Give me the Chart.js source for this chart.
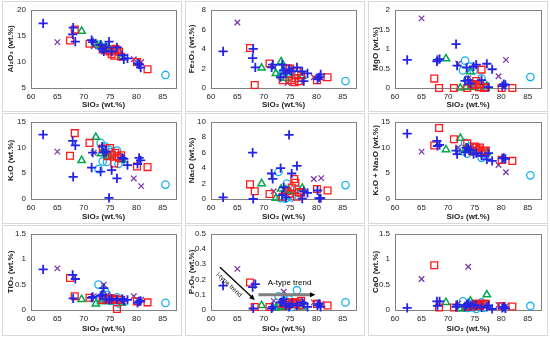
<!DOCTYPE html>
<html>
<head>
<meta charset="utf-8">
<script src="https://cdn.jsdelivr.net/npm/chart.js@4/dist/chart.umd.min.js"></script>
<style>
  body { margin: 0; background: #fff; width: 550px; height: 340px; position: relative; overflow: hidden; }
  .panel { position: absolute; border: 1px solid #d9d9d9; box-sizing: border-box; }
  canvas { position: absolute; }
</style>
</head>
<body>
<script>
// SiO2 of each sample group
const blueSiO2 = [62.3, 67.9, 68.0, 68.4, 71.5, 71.7, 73.2, 73.5, 73.8, 74.2, 74.8, 75.3, 76.3, 77.3, 77.6, 78.3, 80.2, 80.5, 80.8];
const redSiO2 = [67.4, 68.3, 71.1, 73.6, 74.5, 75.0, 75.3, 75.8, 76.0, 76.3, 76.7, 77.1, 80.1, 82.1];
const greenSiO2 = [69.6, 72.3, 73.3, 74.2, 74.8, 77.3];
const purpleSiO2 = [65.0, 71.9, 73.8, 74.5, 79.5, 80.9];
const cyanSiO2 = [72.8, 73.2, 73.6, 74.1, 74.4, 74.8, 75.3, 76.3, 76.6, 85.5];

// blue +
const blueAl2O3 = [17.4, 15.3, 16.6, 13.9, 14.2, 13.8, 13.3, 12.5, 12.0, 12.8, 13.9, 12.0, 12.8, 11.3, 10.5, 10.7, 9.7, 9.5, 8.9];
const blueFe2O3 = [3.75, 3.05, 4.0, 2.1, 2.1, 2.4, 1.1, 2.4, 1.8, 1.5, 1.9, 1.7, 2.1, 1.7, 0.7, 1.5, 0.9, 1.1, 1.4];
const blueMgO = [0.72, 0.68, 0.72, 0.74, 1.12, 0.57, 0.18, 0.52, 0.2, 0.12, 0.55, 0.6, 0.2, 0.62, 0.02, 0.48, 0.05, 0.1, 0.08];
const blueK2O = [12.5, 11.3, 4.3, 10.4, 6.1, 9.0, 5.3, 10.2, 9.0, 9.2, 0.2, 5.6, 4.0, 8.0, 7.8, 6.6, 6.8, 8.0, 7.5];
const blueNa2O = [0.2, 6.0, 0.0, null, 3.3, 2.6, 4.0, 0.5, 1.5, 0.2, 8.3, 3.3, 4.3, 0.05, 1.0, 0.8, 1.1, 0.1, 0.1];
const blueAlk = [12.7, 11.3, 10.3, 10.5, 9.4, 8.7, 9.1, 10.0, 9.8, 9.5, 8.7, 8.9, 8.4, 7.7, 8.9, 7.4, 7.9, 8.0, 7.8];
const blueTiO2 = [0.8, 0.69, 0.23, 0.61, 0.24, 0.26, 0.28, 0.3, 0.43, 0.22, 0.2, 0.22, 0.2, 0.22, 0.18, 0.2, 0.14, 0.17, 0.18];
const blueP2O5 = [0.16, 0.15, 0.01, 0.17, 0.01, 0.02, 0.05, 0.05, 0.07, 0.03, 0.02, 0.04, 0.03, 0.05, 0.04, 0.02, 0.03, 0.04, 0.02];
const blueCaO = [0.04, 0.17, 0.08, 0.17, 0.06, 0.1, 0.07, 0.1, 0.13, 0.08, 0.1, 0.09, 0.05, 0.06, 0.09, 0.02, 0.04, 0.06, 0.03];

// red squares
const redAl2O3 = [14.1, 16.2, 13.5, 12.4, 12.2, 12.0, 11.5, 11.2, 12.5, 12.3, 12.0, 11.0, 10.0, 8.6];
const redFe2O3 = [4.1, 0.3, 2.5, 0.8, 2.0, 2.0, 0.8, 0.6, 1.0, 1.7, 0.7, 1.3, 0.8, 1.1];
const redMgO = [0.24, 0.0, 0.0, 0.0, 0.1, 0.08, 0.18, 0.02, 0.1, 0.47, 0.0, 0.02, 0.0, 0.0];
const redK2O = [8.4, 12.8, 10.9, 9.8, 8.3, 9.9, 8.6, 6.9, 9.0, 8.3, 8.0, 8.5, 6.3, 6.2];
const redNa2O = [1.9, 1.0, 0.65, 0.3, 1.0, 0.7, 1.5, 2.6, 2.1, 0.3, 0.9, 0.8, 1.3, 1.1];
const redAlk = [10.4, 13.8, 11.6, 10.8, 9.3, 10.2, 10.0, 9.6, 10.0, 9.0, 9.3, 9.4, 7.6, 7.4];
const redTiO2 = [0.63, 0.27, 0.24, 0.2, 0.22, 0.23, 0.2, 0.22, 0.21, 0.02, 0.2, 0.2, 0.17, 0.15];
const redP2O5 = [0.18, 0.02, 0.02, 0.04, 0.03, 0.05, 0.04, 0.05, 0.04, 0.05, 0.03, 0.06, 0.04, 0.03];
const redCaO = [0.88, 0.05, 0.05, 0.06, 0.07, 0.1, 0.12, 0.12, 0.08, 0.1, 0.12, 0.12, 0.08, 0.07];

// green triangles
const greenAl2O3 = [15.9, 13.5, 13.2, 12.8, 12.5, 11.0];
const greenFe2O3 = [2.05, 1.5, 2.7, 1.0, 1.3, 1.2];
const greenMgO = [0.75, 0.0, 0.02, 0.42, 0.02, 0.05];
const greenK2O = [7.5, 12.0, 8.8, 9.0, 8.3, 7.6];
const greenNa2O = [2.0, 0.1, 1.3, 1.2, 1.0, 1.4];
const greenAlk = [9.6, 11.8, 9.8, 9.6, 9.2, 9.0];
const greenTiO2 = [0.21, 0.12, 0.17, 0.17, 0.17, 0.14];
const greenP2O5 = [0.03, 0.015, 0.02, 0.02, 0.03, 0.02];
const greenCaO = [0.15, 0.02, 0.05, 0.18, 0.05, 0.3];

// purple x
const purpleAl2O3 = [13.8, 13.0, 12.0, 12.3, 10.5, 10.0];
const purpleFe2O3 = [6.7, 2.1, 1.6, 0.5, 1.1, 1.0];
const purpleMgO = [1.78, 0.62, 0.25, 0.12, 0.3, 0.72];
const purpleK2O = [9.2, 9.0, 8.9, 8.6, 4.0, 2.5];
const purpleNa2O = [null, 1.0, 1.2, 1.0, 2.6, 2.7];
const purpleAlk = [9.2, 10.0, 9.5, 9.6, 6.6, 5.2];
const purpleTiO2 = [0.82, 0.27, 0.5, 0.3, 0.27, 0.2];
const purpleP2O5 = [0.27, 0.06, 0.12, 0.05, 0.05, 0.04];
const purpleCaO = [0.61, 0.13, 0.85, 0.1, 0.1, 0.08];

// cyan circles
const cyanAl2O3 = [13.3, 12.9, 12.5, 12.6, 12.8, 12.4, 12.2, 12.0, 11.9, 7.5];
const cyanFe2O3 = [2.0, 1.2, 1.6, 2.0, 1.5, 2.0, 1.7, 1.4, 0.7, 0.7];
const cyanMgO = [0.45, 0.7, 0.2, 0.55, 0.1, 0.45, 0.05, 0.25, 0.05, 0.28];
const cyanK2O = [5.8, 10.9, 7.3, 10.2, 7.2, 9.6, 9.1, 9.4, 6.8, 2.8];
const cyanNa2O = [3.5, 0.1, 0.3, 0.05, 2.0, 0.5, 0.2, 1.3, 0.8, 1.8];
const cyanAlk = [9.3, 10.9, 8.8, 10.2, 9.2, 10.0, 9.3, 8.0, 8.7, 4.6];
const cyanTiO2 = [0.5, 0.23, 0.25, 0.36, 0.3, 0.2, 0.18, 0.25, 0.13, 0.14];
const cyanP2O5 = [0.09, 0.03, 0.04, 0.06, 0.03, 0.07, 0.02, 0.13, 0.04, 0.05];
const cyanCaO = [0.17, 0.05, 0.04, 0.05, 0.12, 0.05, 0.02, 0.15, 0.04, 0.08];

// panels
const yTitles = ["Al₂O₃ (wt.%)", "Fe₂O₃ (wt.%)", "MgO (wt.%)", "K₂O (wt.%)", "Na₂O (wt.%)", "K₂O + Na₂O (wt.%)", "TiO₂ (wt.%)", "P₂O₅ (wt.%)", "CaO (wt.%)"];
const yMin = [5, 0, 0, 0, 0, 0, 0, 0, 0];
const yMax = [20, 8, 2, 15, 10, 15, 1.5, 0.5, 1.5];
const yStep = [5, 2, 0.5, 5, 2, 5, 0.5, 0.1, 0.5];
const xTitle = "SiO₂ (wt.%)";

// P2O5 panel trend arrows and labels (data coordinates)
const iTrendArrow = [[61.7, 0.28], [68.3, 0.065]];
const aTrendArrow = [[69.0, 0.1], [79.8, 0.1]];
const iTrendLabel = ["I-type trend", 63.4, 0.165];
const aTrendLabel = ["A-type trend", 74.9, 0.18];

const groups = [
  { si: blueSiO2, vals: [blueAl2O3, blueFe2O3, blueMgO, blueK2O, blueNa2O, blueAlk, blueTiO2, blueP2O5, blueCaO], color: "#2424e6", style: "cross", r: 4.6, bw: 1.8 },
  { si: redSiO2, vals: [redAl2O3, redFe2O3, redMgO, redK2O, redNa2O, redAlk, redTiO2, redP2O5, redCaO], color: "#ff1a1a", style: "rect", r: 4.8, bw: 1.3 },
  { si: greenSiO2, vals: [greenAl2O3, greenFe2O3, greenMgO, greenK2O, greenNa2O, greenAlk, greenTiO2, greenP2O5, greenCaO], color: "#00a84f", style: "triangle", r: 4.2, bw: 1.5 },
  { si: purpleSiO2, vals: [purpleAl2O3, purpleFe2O3, purpleMgO, purpleK2O, purpleNa2O, purpleAlk, purpleTiO2, purpleP2O5, purpleCaO], color: "#7a3aa8", style: "crossRot", r: 3.9, bw: 1.3 },
  { si: cyanSiO2, vals: [cyanAl2O3, cyanFe2O3, cyanMgO, cyanK2O, cyanNa2O, cyanAlk, cyanTiO2, cyanP2O5, cyanCaO], color: "#1ab2ee", style: "circle", r: 3.7, bw: 1.3 }
];

// layout
const colX = [0, 183, 366];
const rowY = [0, 112, 224];
const yWidth = [31, 28, 29];
const padRight = [7, 10, 8];
const padTop = [8, 8, 7];
const xHeight = [24, 25, 26];
const yTitlePad = [6, 4, 5];

const frame = {
  id: "frame",
  beforeDatasetsDraw(chart) {
    const a = chart.chartArea, ctx = chart.ctx;
    ctx.save();
    ctx.strokeStyle = "#808080";
    ctx.lineWidth = 1;
    ctx.strokeRect(Math.round(a.left) + 0.5, Math.round(a.top) + 0.5, Math.round(a.right - a.left), Math.round(a.bottom - a.top));
    ctx.restore();
  }
};

function arrowHead(ctx, x0, y0, x1, y1, size) {
  const ang = Math.atan2(y1 - y0, x1 - x0);
  ctx.beginPath();
  ctx.moveTo(x1, y1);
  ctx.lineTo(x1 - size * Math.cos(ang - 0.45), y1 - size * Math.sin(ang - 0.45));
  ctx.lineTo(x1 - size * Math.cos(ang + 0.45), y1 - size * Math.sin(ang + 0.45));
  ctx.closePath();
  ctx.fill();
}

const trends = {
  id: "trends",
  afterDatasetsDraw(chart) {
    const ctx = chart.ctx, xs = chart.scales.x, ys = chart.scales.y;
    const px = v => xs.getPixelForValue(v), py = v => ys.getPixelForValue(v);
    ctx.save();
    // I-type
    let x0 = px(iTrendArrow[0][0]), y0 = py(iTrendArrow[0][1]);
    let x1 = px(iTrendArrow[1][0]), y1 = py(iTrendArrow[1][1]);
    ctx.strokeStyle = "#000"; ctx.fillStyle = "#000"; ctx.lineWidth = 1.3;
    ctx.beginPath(); ctx.moveTo(x0, y0); ctx.lineTo(x1 - 3, y1 - 3); ctx.stroke();
    arrowHead(ctx, x0, y0, x1, y1, 6);
    ctx.save();
    ctx.translate(px(iTrendLabel[1]), py(iTrendLabel[2]));
    ctx.rotate(Math.atan2(y1 - y0, x1 - x0));
    ctx.font = "6.5px 'Liberation Sans', Arial, sans-serif";
    ctx.textAlign = "center"; ctx.textBaseline = "middle";
    ctx.fillText(iTrendLabel[0], 0, 0);
    ctx.restore();
    // A-type
    x0 = px(aTrendArrow[0][0]); y0 = py(aTrendArrow[0][1]);
    x1 = px(aTrendArrow[1][0]); y1 = py(aTrendArrow[1][1]);
    ctx.strokeStyle = "#7f7f7f"; ctx.lineWidth = 3;
    ctx.beginPath(); ctx.moveTo(x0, y0); ctx.lineTo(x1 - 4, y1); ctx.stroke();
    ctx.fillStyle = "#000";
    arrowHead(ctx, x0, y0, x1, y1, 6);
    ctx.font = "8px 'Liberation Sans', Arial, sans-serif";
    ctx.textAlign = "center"; ctx.textBaseline = "middle";
    ctx.fillText(aTrendLabel[0], px(aTrendLabel[1]), py(aTrendLabel[2]));
    ctx.restore();
  }
};

const fontFam = "'Liberation Sans', Arial, sans-serif";

for (let k = 0; k < 9; k++) {
  const col = k % 3, row = Math.floor(k / 3);
  const box = document.createElement("div");
  box.className = "panel";
  box.style.left = (colX[col] + 2) + "px";
  box.style.top = (rowY[row] + 1) + "px";
  box.style.width = "180px";
  box.style.height = "111px";
  document.body.appendChild(box);

  const cv = document.createElement("canvas");
  cv.width = 183; cv.height = 112;
  cv.style.left = colX[col] + "px";
  cv.style.top = rowY[row] + "px";
  document.body.appendChild(cv);

  const datasets = groups.map(g => ({
    data: g.si.map((x, i) => ({ x: x, y: g.vals[k][i] })).filter(p => p.y !== null),
    pointStyle: g.style,
    pointRadius: g.r,
    pointBorderWidth: g.bw,
    borderColor: g.color,
    backgroundColor: "rgba(0,0,0,0)",
    showLine: false
  }));

  new Chart(cv.getContext("2d"), {
    type: "scatter",
    data: { datasets: datasets },
    options: {
      responsive: false,
      animation: false,
      clip: false,
      layout: { padding: { left: 0, right: padRight[col], top: padTop[row], bottom: 0 } },
      plugins: { legend: { display: false }, tooltip: { enabled: false } },
      scales: {
        x: {
          type: "linear",
          min: 60, max: 87.5,
          grid: { display: false, drawTicks: false },
          border: { display: false },
          ticks: { stepSize: 5, includeBounds: false, color: "#222", padding: 4, maxRotation: 0,
            font: { family: fontFam, size: 8 } },
          title: { display: true, text: xTitle, color: "#222", padding: { top: 0, bottom: 2 },
            font: { family: fontFam, size: 8, weight: "bold" } },
          afterFit: s => { s.height = xHeight[row]; }
        },
        y: {
          type: "linear",
          min: yMin[k], max: yMax[k],
          grid: { display: false, drawTicks: false },
          border: { display: false },
          ticks: { stepSize: yStep[k], color: "#222", padding: 5,
            callback: v => String(+v.toFixed(2)),
            font: { family: fontFam, size: 8 } },
          title: { display: true, text: yTitles[k], color: "#222", padding: { top: yTitlePad[col], bottom: 0 },
            font: { family: fontFam, size: 8, weight: "bold" } },
          afterFit: s => { s.width = yWidth[col]; }
        }
      }
    },
    plugins: k === 7 ? [frame, trends] : [frame]
  });
}
</script>
</body>
</html>
